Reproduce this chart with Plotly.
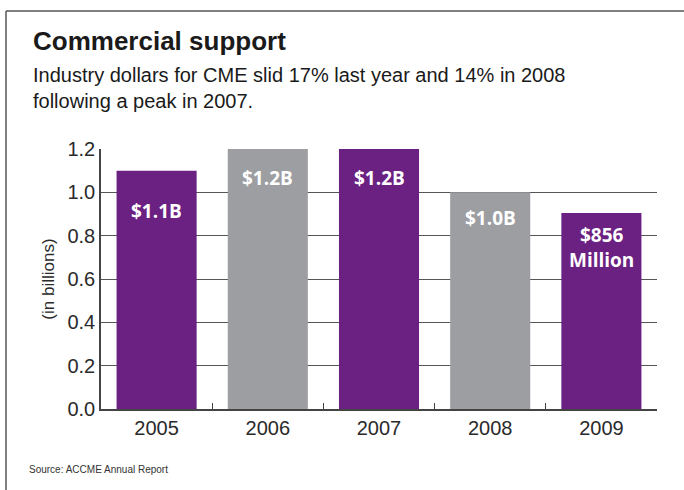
import plotly.graph_objects as go

years = ["2005", "2006", "2007", "2008", "2009"]
values = [1.1, 1.2, 1.2, 1.0, 0.905]
labels = ["$1.1B", "$1.2B", "$1.2B", "$1.0B", "$856<br>Million"]
colors = ["#6b2182", "#9d9ea2", "#6b2182", "#9d9ea2", "#6b2182"]
label_shift = [-40, -29, -29, -26, -35]

W, H = 684, 490
L, R, T, B = 101, 27, 149, 81
pw, ph = W - L - R, H - T - B

def px(x):
    return (x - L) / pw

def py(y):
    return (H - B - y) / ph

fig = go.Figure()
fig.add_trace(go.Bar(x=years, y=values, marker=dict(color=colors, line=dict(width=0)),
                     width=0.72, hoverinfo="skip"))

for i, (v, lab, s) in enumerate(zip(values, labels, label_shift)):
    fig.add_annotation(x=i, y=v, text="<b>" + lab + "</b>", showarrow=False,
                       yshift=s, yanchor="middle",
                       font=dict(family="Open Sans, Noto Sans, sans-serif", size=19, color="white"))

font_main = "Liberation Sans, Arial, sans-serif"

fig.add_annotation(xref="paper", yref="paper", x=px(31), y=py(41), xanchor="left", yanchor="middle",
                   text="<b>Commercial support</b>", showarrow=False,
                   font=dict(family=font_main, size=26, color="#1a1a1a"))
fig.add_annotation(xref="paper", yref="paper", x=px(31), y=py(88), xanchor="left", yanchor="middle",
                   text="Industry dollars for CME slid 17% last year and 14% in 2008<br>following a peak in 2007.",
                   showarrow=False, align="left",
                   font=dict(family=font_main, size=20, color="#1a1a1a"))
fig.add_annotation(xref="paper", yref="paper", x=px(27), y=py(469), xanchor="left", yanchor="middle",
                   text="Source: ACCME Annual Report", showarrow=False,
                   font=dict(family=font_main, size=10, color="#333"))

# frame
fig.add_shape(type="line", xref="paper", yref="paper", x0=px(6), x1=px(684), y0=py(11), y1=py(11),
              line=dict(color="#555", width=1.5))
fig.add_shape(type="line", xref="paper", yref="paper", x0=px(6), x1=px(6), y0=py(11), y1=py(490),
              line=dict(color="#555", width=1.5))

fig.update_layout(
    width=W, height=H, margin=dict(l=L, r=R, t=T, b=B),
    paper_bgcolor="white", plot_bgcolor="white", showlegend=False,
    bargap=0.28,
    font=dict(family=font_main, color="#222"),
)
fig.update_xaxes(type="category", tickson="boundaries", ticks="inside", ticklen=6,
                 tickcolor="#444", showline=True, linecolor="#444", linewidth=1.5,
                 tickfont=dict(size=20, color="#2a2a2a"), showgrid=False, mirror=False)
fig.update_yaxes(range=[0, 1.2], dtick=0.2, tickformat=".1f", showgrid=True, gridcolor="#555",
                 gridwidth=1.2, showline=True, linecolor="#444", linewidth=1.5, ticks="",
                 tickfont=dict(size=20, color="#2a2a2a"), zeroline=False,
                 title=dict(text="(in billions)", font=dict(size=17, color="#2a2a2a"), standoff=8))

fig.write_html("out.html")
